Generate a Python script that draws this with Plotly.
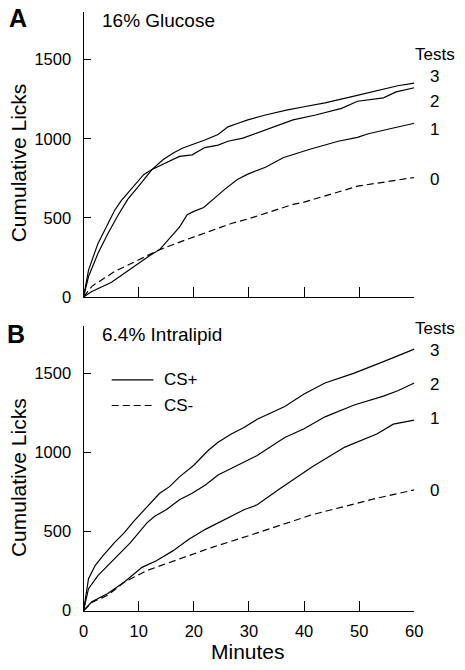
import plotly.graph_objects as go

# ---------------- data ----------------
# Panel A: 16% Glucose  (minutes, cumulative licks)
glu_t3 = [0, 0.9, 2.6, 4.4, 6.2, 8, 10, 12.4, 14.4, 16.2, 17.9, 20, 22, 24.4, 26.2, 27.9, 29.8, 33, 36.8, 40, 43.8, 48.5, 51, 54.4, 57, 60]
glu_v3 = [0, 129, 274, 399, 513, 617, 700, 805, 867, 908, 940, 965, 992, 1027, 1075, 1096, 1119, 1150, 1181, 1202, 1227, 1264, 1285, 1316, 1335, 1351]
glu_t2 = [0, 0.9, 2.6, 4.4, 5.6, 6.8, 9, 10.9, 12.4, 14.4, 17.4, 19.7, 22, 24.4, 26.2, 28.9, 32.1, 35, 38, 42.1, 46.8, 49.7, 54.4, 56.7, 60]
glu_v2 = [0, 170, 337, 461, 545, 607, 700, 773, 805, 840, 888, 898, 944, 960, 984, 1004, 1046, 1080, 1119, 1150, 1192, 1237, 1258, 1296, 1322]
glu_t1 = [0, 1.5, 5, 7.4, 10, 12.1, 13.8, 15.6, 17.4, 18.8, 20, 21.8, 23.8, 25.6, 27.9, 29.8, 33, 36.2, 40.9, 46.2, 49.7, 51.5, 55.6, 60]
glu_v1 = [0, 35, 91, 150, 212, 264, 299, 368, 441, 520, 541, 565, 628, 680, 742, 776, 820, 880, 932, 984, 1009, 1030, 1063, 1098]
glu_t0 = [0, 1.5, 5.6, 10, 13.8, 19.1, 26.8, 30, 38, 40, 49.7, 60]
glu_v0 = [0, 67, 160, 233, 299, 368, 464, 495, 585, 599, 700, 755]

# Panel B: 6.4% Intralipid
lip_t3 = [0, 0.9, 2.1, 3.5, 5.6, 7.4, 9.1, 11.5, 13.8, 15.6, 17.4, 20, 22.6, 24.4, 26.8, 29.1, 31.5, 36.5, 40, 43.8, 49.1, 54.4, 60]
lip_v3 = [0, 202, 285, 347, 430, 493, 565, 659, 742, 784, 846, 919, 1012, 1064, 1116, 1158, 1210, 1290, 1369, 1439, 1501, 1574, 1653]
lip_t2 = [0, 0.9, 2.6, 5.6, 8.5, 11.5, 12.9, 15, 17.4, 19.7, 22.1, 24.4, 26.2, 29.1, 31.5, 36.5, 40, 43.8, 49.1, 54.4, 57, 60]
lip_v2 = [0, 139, 222, 326, 430, 555, 597, 638, 701, 742, 794, 857, 888, 940, 981, 1095, 1150, 1225, 1300, 1356, 1390, 1439]
lip_t1 = [0, 1.5, 4.4, 7.4, 10.6, 13.2, 16.2, 19.1, 22.1, 24.4, 26.2, 29.1, 31.5, 35.6, 41.5, 47.4, 53.2, 56.2, 60]
lip_v1 = [0, 56, 108, 181, 274, 316, 378, 451, 514, 555, 586, 638, 669, 770, 909, 1034, 1117, 1179, 1204]
lip_t0 = [0, 1.5, 4.4, 7.4, 11.5, 17.4, 23.2, 29.8, 41.5, 53.2, 60]
lip_v0 = [0, 52, 98, 181, 254, 326, 399, 472, 607, 711, 763]

x_ticks = [0, 10, 20, 30, 40, 50, 60]
y_ticks = [0, 500, 1000, 1500]
test_labels = ["3", "2", "1", "0"]

FONT = "Liberation Sans, Arial, sans-serif"
DASH = "7px,4px"

fig = go.Figure()

def add(t, v, dash, xa, ya):
    fig.add_trace(go.Scatter(x=t, y=v, mode="lines", xaxis=xa, yaxis=ya,
                             line=dict(color="black", width=1.2, dash=dash),
                             showlegend=False, hoverinfo="skip"))

add(glu_t3, glu_v3, "solid", "x", "y")
add(glu_t2, glu_v2, "solid", "x", "y")
add(glu_t1, glu_v1, "solid", "x", "y")
add(glu_t0, glu_v0, DASH, "x", "y")
add(lip_t3, lip_v3, "solid", "x2", "y2")
add(lip_t2, lip_v2, "solid", "x2", "y2")
add(lip_t1, lip_v1, "solid", "x2", "y2")
add(lip_t0, lip_v0, DASH, "x2", "y2")

W, H = 465, 670
xdom = [81 / W, 422 / W]
ydomA = [1 - 301 / H, 1 - 12.3 / H]
ydomB = [1 - 619 / H, 1 - 330.3 / H]

xcommon = dict(range=[0, 60], tickvals=x_ticks, ticks="inside", ticklen=10, tickwidth=1.3,
               tickcolor="black", showline=True, linecolor="black", linewidth=1.3,
               showgrid=False, zeroline=False, domain=xdom,
               tickfont=dict(family=FONT, size=16.5, color="black"), ticklabelstandoff=5)
ycommon = dict(range=[0, 1800], tickvals=y_ticks, ticks="inside", ticklen=7, tickwidth=1.3,
               tickcolor="black", showline=True, linecolor="black", linewidth=1.3,
               showgrid=False, zeroline=False,
               tickfont=dict(family=FONT, size=16.5, color="black"), ticklabelstandoff=8)

fig.update_layout(
    width=W, height=H, margin=dict(l=0, r=0, t=0, b=0),
    paper_bgcolor="white", plot_bgcolor="white",
    xaxis=dict(**xcommon, anchor="y", showticklabels=False),
    yaxis=dict(**ycommon, anchor="x", domain=ydomA),
    xaxis2=dict(**xcommon, anchor="y2"),
    yaxis2=dict(**ycommon, anchor="x2", domain=ydomB),
    showlegend=False,
)

ann = []
def txt(x, y, s, size=16.5, bold=False, angle=0, xanchor="center"):
    ann.append(dict(x=x, y=y, xref="paper", yref="paper", text=f"<b>{s}</b>" if bold else s,
                    showarrow=False, textangle=angle, xanchor=xanchor, yanchor="middle",
                    borderpad=0, font=dict(family=FONT, size=size, color="black")))

px = lambda p: p / W
py = lambda p: 1 - p / H

txt(px(13), py(18), "A", size=25, bold=True)
txt(px(11), py(339), "B", size=25, bold=True)
txt(px(99), py(21), "16% Glucose", size=19, xanchor="left")
txt(px(99), py(339), "6.4% Intralipid", size=19, xanchor="left")
txt(px(14), py(165), "Cumulative Licks", size=21, angle=-90)
txt(px(14), py(484), "Cumulative Licks", size=21, angle=-90)
txt(px(251), py(660), "Minutes", size=21)
txt(px(443), py(55), "Tests", size=17)
txt(px(443), py(333), "Tests", size=17)
for lab, yy in zip(test_labels, [78, 103, 131, 182]):
    txt(px(443), py(yy), lab, size=17)
for lab, yy in zip(test_labels, [355, 390, 424, 497]):
    txt(px(443), py(yy), lab, size=17)

# legend in panel B
txt(px(163), py(385), "CS+", size=17, xanchor="left")
txt(px(163), py(411), "CS-", size=17, xanchor="left")
fig.add_shape(type="line", xref="paper", yref="paper", x0=px(110), x1=px(153), y0=py(385), y1=py(385),
              line=dict(color="black", width=1.2))
fig.add_shape(type="line", xref="paper", yref="paper", x0=px(110), x1=px(153), y0=py(411), y1=py(411),
              line=dict(color="black", width=1.2, dash=DASH))

fig.update_layout(annotations=ann)

post = (
    "var de=document.documentElement, b=document.body;"
    "de.style.margin='0'; de.style.padding='0'; de.style.overflow='hidden';"
    "b.style.margin='0'; b.style.padding='0'; b.style.overflow='hidden';"
)
fig.write_html("out.html", config={"displayModeBar": False}, post_script=post)
